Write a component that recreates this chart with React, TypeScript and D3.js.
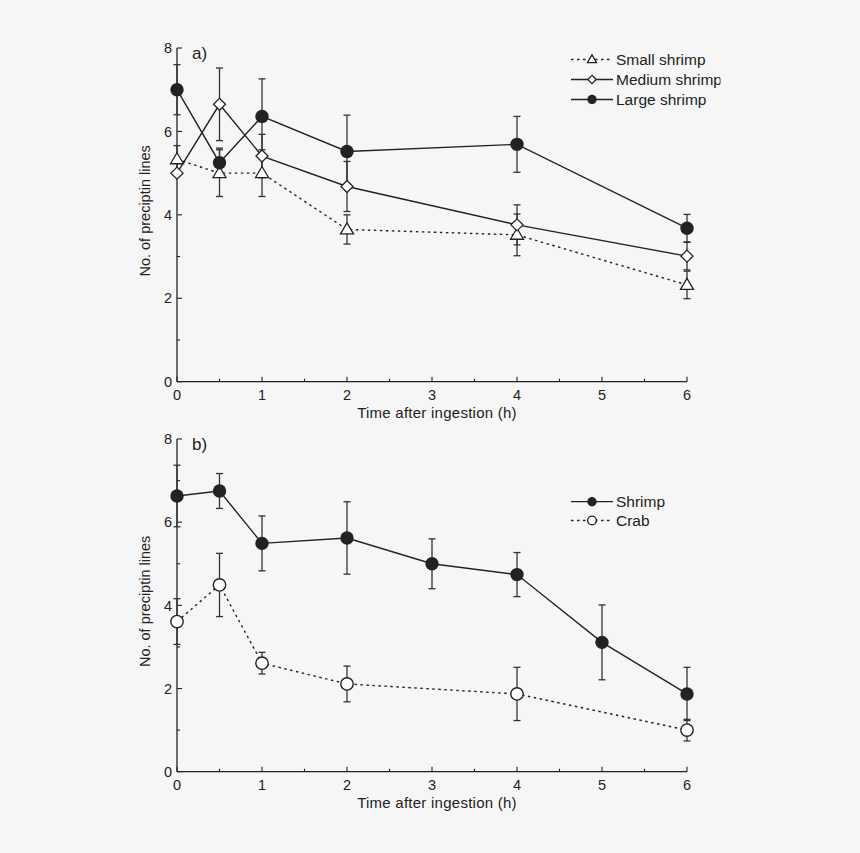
import React from "react";
import * as d3 from "d3";

const timesA = [0, 0.5, 1, 2, 4, 6];
const smallMean = [5.33, 5.0, 5.0, 3.65, 3.52, 2.32];
const smallErr = [0.33, 0.56, 0.56, 0.35, 0.5, 0.33];
const mediumMean = [5.0, 6.65, 5.41, 4.68, 3.76, 3.01];
const mediumErr = [0, 0.87, 0.52, 0.6, 0.48, 0.33];
const largeMean = [7.0, 5.25, 6.36, 5.52, 5.69, 3.68];
const largeErr = [0.6, 0.35, 0.9, 0.87, 0.67, 0.33];

const shrimpTimes = [0, 0.5, 1, 2, 3, 4, 5, 6];
const shrimpMean = [6.63, 6.75, 5.49, 5.62, 5.0, 4.74, 3.11, 1.87];
const shrimpErr = [0.74, 0.42, 0.66, 0.87, 0.6, 0.53, 0.9, 0.64];
const crabTimes = [0, 0.5, 1, 2, 4, 6];
const crabMean = [3.61, 4.49, 2.61, 2.11, 1.87, 1.0];
const crabErr = [0.55, 0.76, 0.26, 0.43, 0.64, 0.26];

const xMajor = [0, 1, 2, 3, 4, 5, 6];
const xMinor = [0.5, 1.5, 2.5, 3.5, 4.5, 5.5];
const yMajor = [0, 2, 4, 6, 8];
const yMinor = [1, 3, 5, 7];

const INK = "#222";
const FONT = "'Liberation Sans', Arial, sans-serif";
const DOT = "2.5,3.5";

type Shape = "triangle" | "diamond" | "filled" | "open";

function Marker({ x, y, shape, s = 1 }: { x: number; y: number; shape: Shape; s?: number }) {
  if (shape === "filled") return <circle cx={x} cy={y} r={6.7 * s} fill={INK} />;
  if (shape === "open")
    return <circle cx={x} cy={y} r={6.2 * s} fill="#fff" stroke={INK} strokeWidth={1.4} />;
  if (shape === "diamond") {
    const h = 6 * s;
    return (
      <path
        d={`M${x},${y - h}L${x + h},${y}L${x},${y + h}L${x - h},${y}Z`}
        fill="#fff"
        stroke={INK}
        strokeWidth={1.3}
      />
    );
  }
  const w = 6.5 * s;
  const h = 11 * s;
  return (
    <path
      d={`M${x},${y - h * 0.6}L${x + w},${y + h * 0.4}L${x - w},${y + h * 0.4}Z`}
      fill="#fff"
      stroke={INK}
      strokeWidth={1.3}
    />
  );
}

type Series = { t: number[]; m: number[]; e: number[]; shape: Shape; dashed: boolean };

function Panel({
  id,
  top,
  bottom,
  label,
  series,
  legend,
}: {
  id: string;
  top: number;
  bottom: number;
  label: string;
  series: Series[];
  legend: { name: string; shape: Shape; dashed: boolean; y: number }[];
}) {
  const x = d3.scaleLinear().domain([0, 6]).range([177, 687]);
  const y = d3.scaleLinear().domain([0, 8]).range([bottom, top]);
  const line = d3
    .line<[number, number]>()
    .x((d) => x(d[0]))
    .y((d) => y(d[1]));
  return (
    <g>
      <defs>
        <clipPath id={"clip" + id}>
          <rect x={0} y={0} width={720.5} height={853} />
        </clipPath>
      </defs>
      {/* axes */}
      <line x1={x(0)} x2={x(0)} y1={y(8)} y2={y(0)} stroke={INK} strokeWidth={1.3} />
      <line x1={x(0)} x2={x(6)} y1={y(0)} y2={y(0)} stroke={INK} strokeWidth={1.3} />
      {yMajor.map((v) => (
        <g key={"ym" + v}>
          <line x1={x(0)} x2={x(0) + 5} y1={y(v)} y2={y(v)} stroke={INK} strokeWidth={1.1} />
          <text x={x(0) - 5} y={y(v)} dy="0.36em" textAnchor="end" fontSize={14.5} fill={INK} fontFamily={FONT}>
            {v}
          </text>
        </g>
      ))}
      {yMinor.map((v) => (
        <line key={"yn" + v} x1={x(0)} x2={x(0) + 3} y1={y(v)} y2={y(v)} stroke={INK} strokeWidth={1.1} />
      ))}
      {xMajor.map((v) => (
        <g key={"xm" + v}>
          <line x1={x(v)} x2={x(v)} y1={y(0)} y2={y(0) - 5} stroke={INK} strokeWidth={1.1} />
          <text x={x(v)} y={y(0) + 18} textAnchor="middle" fontSize={14.5} fill={INK} fontFamily={FONT}>
            {v}
          </text>
        </g>
      ))}
      {xMinor.map((v) => (
        <line key={"xn" + v} x1={x(v)} x2={x(v)} y1={y(0)} y2={y(0) - 3} stroke={INK} strokeWidth={1.1} />
      ))}
      <text x={437} y={y(0) + 36.5} textAnchor="middle" fontSize={15} letterSpacing={0.25} fill={INK} fontFamily={FONT}>
        Time after ingestion (h)
      </text>
      <text
        transform={`translate(149.5,${(y(0) + y(8)) / 2 - 4}) rotate(-90)`}
        textAnchor="middle"
        fontSize={14.5}
        fill={INK}
        fontFamily={FONT}
      >
        No. of preciptin lines
      </text>
      <text x={192} y={y(8) + 11} fontSize={17} fill={INK} fontFamily={FONT}>
        {label}
      </text>
      {/* error bars */}
      {series.map((s, si) =>
        s.t.map((t, i) =>
          s.e[i] > 0 ? (
            <g key={`e${si}-${i}`} stroke="#333" strokeWidth={1.3}>
              <line x1={x(t)} x2={x(t)} y1={y(s.m[i] - s.e[i])} y2={y(s.m[i] + s.e[i])} />
              <line x1={x(t) - 3.5} x2={x(t) + 3.5} y1={y(s.m[i] - s.e[i])} y2={y(s.m[i] - s.e[i])} />
              <line x1={x(t) - 3.5} x2={x(t) + 3.5} y1={y(s.m[i] + s.e[i])} y2={y(s.m[i] + s.e[i])} />
            </g>
          ) : null
        )
      )}
      {/* lines */}
      {series.map((s, si) => (
        <path
          key={"l" + si}
          d={line(s.t.map((t, i) => [t, s.m[i]] as [number, number])) || ""}
          fill="none"
          stroke={INK}
          strokeWidth={1.4}
          strokeDasharray={s.dashed ? DOT : undefined}
        />
      ))}
      {/* markers */}
      {series.map((s, si) =>
        s.t.map((t, i) => <Marker key={`m${si}-${i}`} x={x(t)} y={y(s.m[i])} shape={s.shape} />)
      )}
      {/* legend */}
      <g clipPath={`url(#clip${id})`}>
        {legend.map((l) => (
          <g key={l.name}>
            <line
              x1={571}
              x2={613}
              y1={l.y}
              y2={l.y}
              stroke={INK}
              strokeWidth={1.3}
              strokeDasharray={l.dashed ? DOT : undefined}
            />
            <Marker x={592} y={l.y} shape={l.shape} s={0.7} />
            <text x={616} y={l.y} dy="0.36em" fontSize={15.5} fill={INK} fontFamily={FONT}>
              {l.name}
            </text>
          </g>
        ))}
      </g>
    </g>
  );
}

export default function App() {
  return (
    <div style={{ position: "fixed", left: 0, top: 0, width: 860, height: 853 }}>
      <svg width={860} height={853} style={{ display: "block", background: "#f6f6f6" }}>
        <Panel
          id="a"
          top={48}
          bottom={381.7}
          label="a)"
          series={[
            { t: timesA, m: smallMean, e: smallErr, shape: "triangle", dashed: true },
            { t: timesA, m: mediumMean, e: mediumErr, shape: "diamond", dashed: false },
            { t: timesA, m: largeMean, e: largeErr, shape: "filled", dashed: false },
          ]}
          legend={[
            { name: "Small shrimp", shape: "triangle", dashed: true, y: 59.5 },
            { name: "Medium shrimp", shape: "diamond", dashed: false, y: 79.5 },
            { name: "Large shrimp", shape: "filled", dashed: false, y: 99.5 },
          ]}
        />
        <Panel
          id="b"
          top={439}
          bottom={771.7}
          label="b)"
          series={[
            { t: shrimpTimes, m: shrimpMean, e: shrimpErr, shape: "filled", dashed: false },
            { t: crabTimes, m: crabMean, e: crabErr, shape: "open", dashed: true },
          ]}
          legend={[
            { name: "Shrimp", shape: "filled", dashed: false, y: 501.7 },
            { name: "Crab", shape: "open", dashed: true, y: 520.5 },
          ]}
        />
      </svg>
    </div>
  );
}
